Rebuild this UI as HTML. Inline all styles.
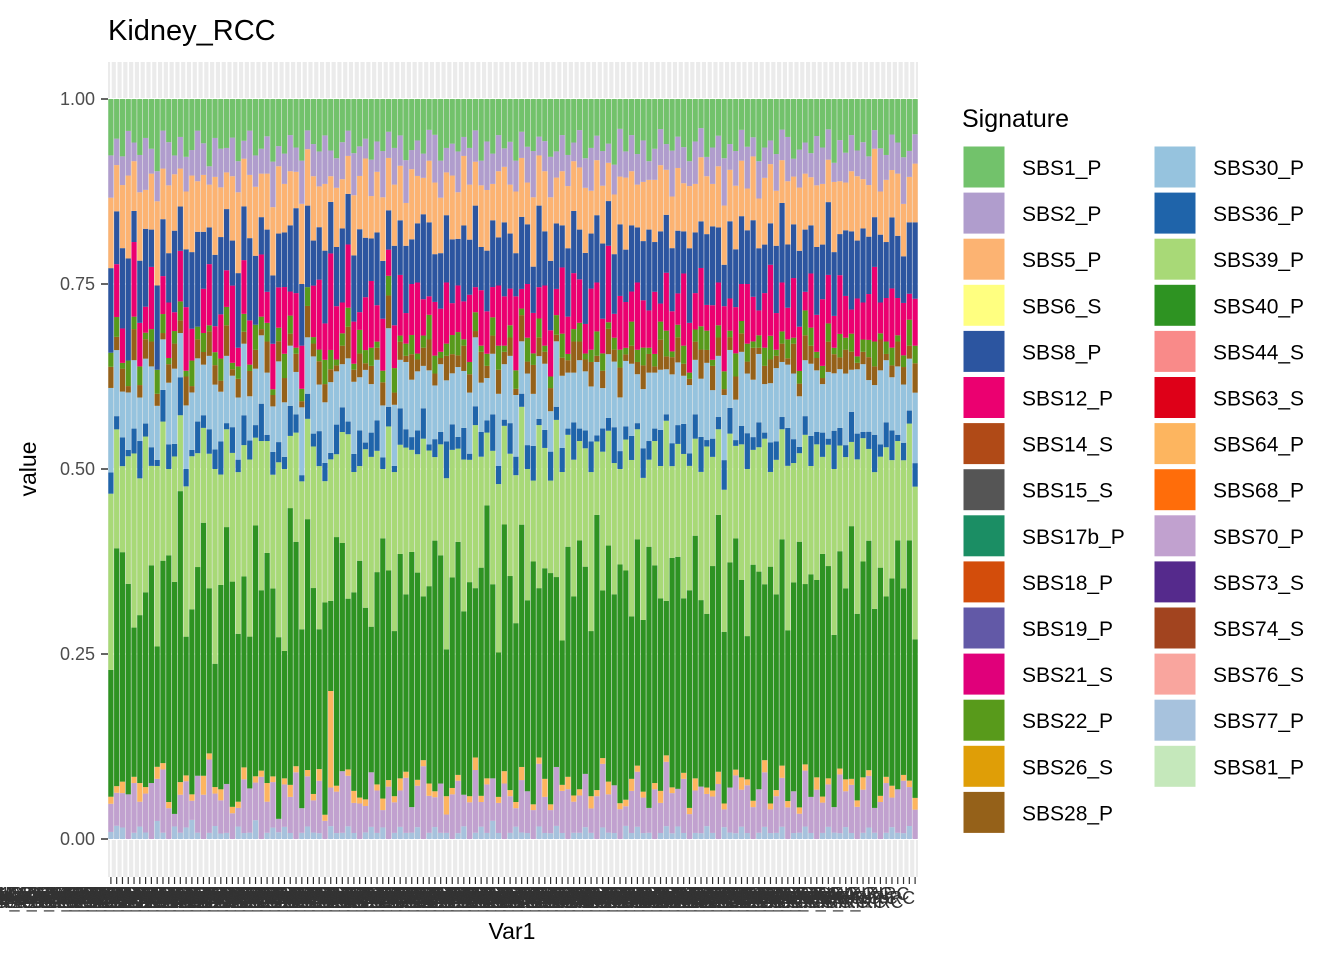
<!DOCTYPE html>
<html><head><meta charset="utf-8"><style>
body{margin:0;background:#fff;}
svg{display:block;font-family:"Liberation Sans",Arial,sans-serif;}
</style></head><body>
<svg id="chart" width="1344" height="960" viewBox="0 0 1344 960" xmlns="http://www.w3.org/2000/svg">
<text x="108" y="40" font-size="29" fill="#000">Kidney_RCC</text>
<rect x="108" y="62" width="810" height="815" fill="#ebebeb"/>
<g id="grid"></g>
<g id="bars"></g>
<g id="yaxis"></g>
<g id="xaxis"></g>
<text transform="translate(36,469) rotate(-90)" text-anchor="middle" font-size="23" fill="#000">value</text>
<text x="512" y="939" text-anchor="middle" font-size="23" fill="#000">Var1</text>
<g id="legend">
<text x="962" y="127" font-size="25" fill="#000">Signature</text>
</g>
</svg>
<script>
const sbs77=[1,2,2,0,1,2,1,0,3,1,0,2,1,2,3,1,0,1,2,1,1,0,2,1,1,3,0,1,2,1,2,1,0,1,2,1,1,0,2,1,1,2,1,0,1,2,1,2,0,1,2,1,1,2,0,1,2,1,1,0,1,2,0,1,2,1,3,1,0,1,2,1,1,0,2,1,1,2,1,0,1,1,2,1,0,2,1,1,0,2,1,2,1,1,0,1,2,1,2,1,0,1,1,2,1,0,2,1,1,2,1,0,1,2,1,1,2,0,1,1,2,1,0,1,2,1,1,2,1,0,1,2,1,0,1,2,1,1,2,0];
const sbs70=[4,5,6,7,8,4,6,9,7,10,5,2,6,8,3,9,7,12,5,6,8,4,3,9,7,6,10,5,8,2,7,6,11,4,8,5,9,3,6,7,10,8,5,6,4,9,7,3,8,5,6,9,4,7,12,6,5,8,3,7,9,5,6,10,4,8,7,5,9,6,3,8,7,5,10,6,4,9,7,8,5,6,9,4,7,11,6,8,5,3,7,9,6,4,8,5,10,7,6,9,4,7,8,5,6,9,3,7,10,6,8,5,7,9,4,6,8,5,7,3,9,6,8,5,7,4,10,6,8,5,7,9,4,6,8,5,7,9,6,5];
const sbs64=[1,1,2,0,1,3,1,0,2,1,1,0,2,1,1,0,3,1,1,2,0,1,1,2,0,1,1,3,1,0,1,2,1,0,1,1,2,1,15,1,0,1,2,1,1,0,1,2,1,1,2,1,0,1,1,2,1,0,3,1,1,0,1,2,1,1,0,1,2,1,1,2,0,1,1,3,1,0,1,2,1,1,0,2,1,1,2,0,1,1,2,1,1,0,1,2,1,1,0,1,1,2,0,1,1,2,1,0,1,2,1,1,0,2,1,1,2,1,0,1,1,0,2,1,1,0,1,2,1,1,2,1,0,1,1,2,0,1,1,2];
const sbs40=[18,36,40,33,24,27,30,35,20,32,40,37,46,24,29,33,40,27,19,37,42,35,27,32,24,40,29,37,33,27,21,46,37,29,40,32,24,35,14,42,37,27,33,40,29,24,35,45,32,27,37,29,40,35,27,32,42,37,24,33,40,29,35,27,37,45,32,24,40,35,29,37,32,42,27,35,40,29,24,37,32,40,35,27,45,29,37,32,40,35,27,37,29,42,35,32,24,40,37,29,35,40,32,27,37,42,29,35,40,32,24,37,35,29,40,32,37,27,35,42,29,37,32,40,35,27,37,32,42,29,35,40,32,37,29,35,40,32,37,27];
const sbs39=[25,18,15,20,28,22,24,16,30,22,14,20,12,26,24,18,15,22,30,20,16,20,26,22,28,14,24,18,20,26,30,12,18,24,16,22,28,20,22,14,18,26,20,16,24,28,20,12,22,26,18,24,16,20,26,22,14,18,28,20,16,24,20,26,18,12,22,28,16,20,24,18,22,14,26,20,16,24,28,18,22,16,20,26,12,24,18,22,16,20,26,18,24,14,20,22,28,16,18,24,20,16,22,26,18,14,24,20,16,22,28,18,20,24,16,22,18,26,20,14,24,18,22,16,20,26,18,22,14,24,20,16,22,18,24,20,16,22,18,26];
const sbs36=[3,2,5,1,4,6,2,3,1,5,4,2,6,3,1,5,2,4,3,6,1,4,2,5,3,2,6,1,4,3,2,5,3,1,4,2,6,3,1,5,4,2,3,6,1,4,5,2,3,1,6,3,2,4,5,1,3,2,6,4,2,5,1,3,4,2,6,3,1,5,3,2,4,6,1,3,5,2,4,1,6,2,3,5,1,4,2,6,3,2,4,1,5,3,2,6,1,4,3,5,2,4,6,1,3,2,5,4,1,3,6,2,4,1,5,3,2,6,4,1,3,5,2,4,1,6,3,2,5,4,1,3,6,2,4,5,1,3,2,4];
const sbs30=[12,10,8,9,11,7,10,13,9,8,10,12,7,11,9,10,8,12,10,9,11,8,10,12,7,9,11,10,8,12,9,10,7,11,9,12,8,10,11,9,7,10,12,9,11,8,10,9,12,10,8,11,9,10,7,12,9,11,10,8,12,9,10,11,8,7,10,12,9,11,10,8,12,9,10,11,7,10,12,9,8,11,10,9,12,7,10,11,9,10,12,8,10,11,9,10,7,12,10,8,11,9,10,12,8,10,11,9,7,12,10,9,11,8,10,12,9,10,11,8,9,12,10,8,11,9,10,12,7,10,11,9,8,12,10,9,11,10,8,12];
const sbs28=[3,2,4,1,5,2,3,4,2,1,3,4,2,5,1,3,2,4,3,2,5,1,3,2,4,3,1,5,2,3,4,2,3,1,5,2,4,3,2,1,3,5,2,4,1,3,2,4,5,2,3,1,4,2,3,5,2,1,4,3,2,4,3,1,5,2,3,4,2,3,1,4,2,5,3,2,4,1,3,2,5,3,2,4,1,3,4,2,5,1,3,2,4,3,1,5,2,3,4,2,1,3,5,2,4,3,1,2,4,3,2,5,1,3,4,2,3,1,5,2,4,3,2,1,5,3,2,4,3,1,2,4,3,5,1,2,4,3,2,5];
const sbs22=[2,3,1,4,2,3,1,2,4,3,1,2,3,1,4,2,3,1,2,4,3,1,2,3,1,4,2,3,1,2,4,3,1,2,3,1,2,4,3,1,2,3,1,4,2,3,1,2,3,4,1,2,3,1,2,4,3,1,2,3,4,1,2,3,1,2,3,4,1,2,3,1,4,2,3,1,2,3,4,1,2,3,1,2,4,3,1,2,3,1,4,2,3,1,2,3,4,1,2,3,1,2,4,3,1,2,3,1,4,2,3,1,2,3,4,1,2,3,1,2,4,3,1,2,3,1,4,2,3,1,2,3,4,1,2,3,1,2,4,3];
const sbs12=[0,8,6,0,12,7,4,10,0,6,9,3,8,11,5,0,7,10,4,8,6,12,3,9,7,0,10,5,8,6,11,4,9,7,0,8,12,6,15,9,5,10,7,3,8,11,6,9,4,7,10,5,8,12,6,3,9,7,10,5,8,6,11,4,9,7,5,10,8,6,12,3,9,7,5,10,8,4,11,6,9,7,5,10,8,6,12,4,9,7,5,11,8,6,10,3,9,7,5,12,8,6,10,4,9,7,11,5,8,6,10,7,4,9,12,6,8,5,10,7,3,9,6,11,8,5,10,7,4,9,6,8,12,5,7,10,6,9,4,8];
const sbs8=[12,8,14,16,5,10,12,6,14,9,8,13,7,10,12,15,9,6,11,14,10,7,12,9,13,11,6,10,12,8,9,11,14,10,13,7,9,12,8,10,12,8,11,14,9,7,12,10,6,13,9,11,7,10,14,12,8,9,11,10,8,12,9,13,7,10,11,8,12,9,7,11,10,8,13,9,12,10,7,11,10,8,12,9,11,13,7,10,12,8,11,9,10,13,8,12,9,11,10,7,12,10,8,11,13,9,7,12,10,11,9,12,10,8,7,11,13,10,9,12,10,8,11,9,12,10,7,11,13,9,12,10,8,11,9,12,10,8,11,13];
const sbs5=[10,7,11,13,8,11,6,9,14,8,11,9,6,10,12,8,9,7,12,9,6,10,13,8,10,11,7,9,12,10,8,9,6,13,9,10,7,11,4,10,8,6,10,9,12,7,10,11,8,10,9,7,11,8,6,10,12,9,7,10,8,11,9,7,10,10,6,11,9,8,10,9,7,12,8,10,11,7,9,10,8,10,11,7,9,10,6,10,8,11,9,7,10,8,10,11,7,9,10,8,10,8,11,9,7,10,10,8,11,9,7,10,8,11,10,9,7,10,8,10,9,8,10,10,7,11,9,8,10,10,8,9,11,7,10,8,10,9,7,10];
const sbs2=[6,4,5,7,3,6,8,4,5,6,7,3,5,6,4,8,5,3,6,7,4,6,5,3,7,5,4,6,8,3,5,6,4,7,3,5,6,8,4,5,6,4,7,5,3,6,5,8,4,6,5,7,3,6,4,5,8,6,4,5,7,3,6,5,4,8,5,6,3,7,5,4,6,8,3,5,7,4,6,5,3,6,5,7,4,6,3,5,8,4,6,5,7,3,5,6,4,8,5,6,4,7,5,3,6,5,8,4,6,5,7,3,6,5,4,6,5,7,3,6,5,4,8,6,5,3,7,5,6,4,6,5,3,7,4,6,5,8,4,5];
const sbs1=[8,6,10,5,7,9,6,8,12,5,7,9,6,10,8,5,7,11,6,9,8,6,10,7,5,9,8,6,11,7,9,6,8,10,5,7,9,6,8,10,7,5,9,8,6,10,7,9,5,8,6,10,8,7,9,5,6,10,8,7,9,6,8,5,10,7,9,6,8,7,10,5,8,9,6,7,10,8,6,9,7,5,10,8,6,9,7,11,5,8,6,9,7,10,8,5,7,9,6,8,10,7,5,9,8,6,10,7,9,5,8,6,10,8,7,9,5,6,10,8,7,9,6,8,5,10,7,9,6,8,7,10,5,8,9,6,7,10,8,6];
const yTicks=[0,0.25,0.5,0.75,1];
const yTickLabels=["0.00","0.25","0.50","0.75","1.00"];
const sigNames=["SBS1_P","SBS2_P","SBS5_P","SBS6_S","SBS8_P","SBS12_P","SBS14_S","SBS15_S","SBS17b_P","SBS18_P","SBS19_P","SBS21_S","SBS22_P","SBS26_S","SBS28_P","SBS30_P","SBS36_P","SBS39_P","SBS40_P","SBS44_S","SBS63_S","SBS64_P","SBS68_P","SBS70_P","SBS73_S","SBS74_S","SBS76_S","SBS77_P","SBS81_P"];
const sigColors=["#72c26b","#b09dcd","#fcb372","#ffff80","#2c55a0","#eb0070","#b04a17","#555555","#1b8e64","#d34d0b","#6259a7","#e0007a","#589a1b","#df9e07","#956119","#96c3de","#1f64aa","#a8d977","#2e9322","#f98a89","#de0018","#fdb55f","#ff6d0a","#c1a1cf","#552a8c","#a2441f","#f9a59e","#a7c2dd","#c5e8bb"];
const stackSeries=[["SBS77_P",sbs77],["SBS70_P",sbs70],["SBS64_P",sbs64],["SBS40_P",sbs40],["SBS39_P",sbs39],["SBS36_P",sbs36],["SBS30_P",sbs30],["SBS28_P",sbs28],["SBS22_P",sbs22],["SBS12_P",sbs12],["SBS8_P",sbs8],["SBS5_P",sbs5],["SBS2_P",sbs2],["SBS1_P",sbs1]];

const NS="http://www.w3.org/2000/svg";
function mk(tag,attrs,parent){const e=document.createElementNS(NS,tag);for(const k in attrs)e.setAttribute(k,attrs[k]);parent.appendChild(e);return e;}
const X0=108,X1=918,Y0=839,Y1=99;
const n=Math.min(...stackSeries.map(s=>s[1].length));
const pitch=(X1-X0)/n;
function xC(i){return X0+(i+0.5)*pitch;}
function yS(v){return Y0-(Y0-Y1)*v;}
const colorOf={};sigNames.forEach((s,i)=>colorOf[s]=sigColors[i]);

const grid=document.getElementById('grid');
yTicks.forEach(t=>{const l=mk('line',{x1:X0,x2:X1,y1:yS(t),y2:yS(t),stroke:'#fff','stroke-width':2},grid);

});
for(let i=0;i<n;i++){const l=mk('line',{x1:xC(i),x2:xC(i),y1:62,y2:877,stroke:'#fff','stroke-width':1.6},grid);

}

const bars=document.getElementById('bars');
const bw=pitch*0.9;
for(let i=0;i<n;i++){
  let tot=0;stackSeries.forEach(s=>tot+=s[1][i]);
  let acc=0;
  stackSeries.forEach(s=>{
    const v=s[1][i]/tot; if(v<=0)return;
    const yt=yS(acc+v),yb=yS(acc);
    const r=mk('rect',{x:xC(i)-bw/2,y:yt,width:bw,height:yb-yt,fill:colorOf[s[0]]},bars);
    
    
    acc+=v;
  });
}

const ya=document.getElementById('yaxis');
yTicks.forEach((t,i)=>{
  const tl=mk('line',{x1:101,x2:108,y1:yS(t),y2:yS(t),stroke:'#333','stroke-width':1.5},ya);
  
  
  const tx=mk('text',{x:95,y:yS(t)+6,'text-anchor':'end','font-size':18,fill:'#4d4d4d'},ya);
  
  
  tx.textContent=yTickLabels[i];
});
const xa=document.getElementById('xaxis');
for(let i=0;i<n;i++){
  const tl=mk('line',{x1:xC(i),x2:xC(i),y1:877,y2:884,stroke:'#333','stroke-width':1.2},xa);
  
  
  const tx=mk('text',{x:xC(i),y:900+(i%3)*4,'text-anchor':'end','font-size':18,fill:'#333'},xa);
  
  
  tx.textContent='SP'+(10200+i*37)+'_TCGA_KIRC';
}

const lg=document.getElementById('legend');
sigNames.forEach((s,i)=>{
  const col=i<15?0:1,row=i<15?i:i-15;
  const kx=col?1154:963,ky=146+row*46.1;
  const r=mk('rect',{x:kx,y:ky,width:42,height:42,fill:sigColors[i],stroke:'#fff','stroke-width':1},lg);
  
  
  const t=mk('text',{x:kx+59,y:ky+29,'font-size':21,fill:'#000'},lg);
  
  
  t.textContent=s;
});
</script>
</body></html>
